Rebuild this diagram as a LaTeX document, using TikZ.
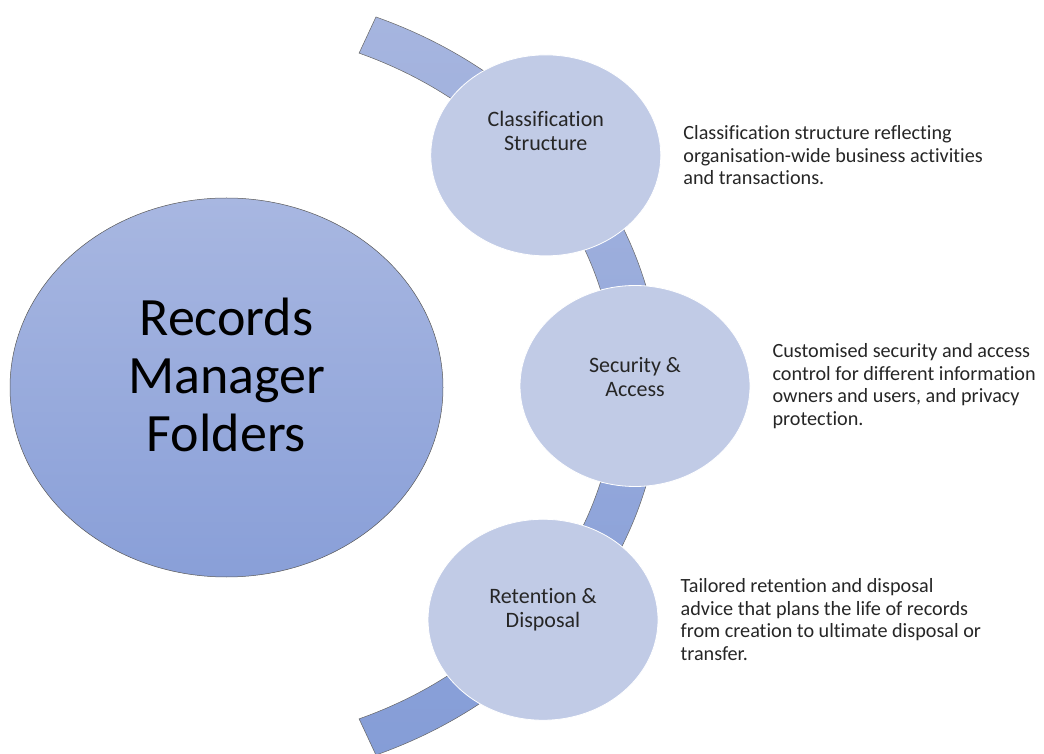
\documentclass[tikz,border=0pt]{standalone}
\usepackage{fontspec}
\setmainfont{Carlito}[Ligatures=NoCommon]
\usetikzlibrary{positioning,shapes.geometric}

\definecolor{bandtop}{RGB}{166,181,223}
\definecolor{bandbot}{RGB}{133,157,215}
\definecolor{hubtop}{RGB}{168,183,225}
\definecolor{hubbot}{RGB}{137,159,216}
\definecolor{discfill}{RGB}{193,203,230}

\begin{document}
\begin{tikzpicture}[x=1pt,y=1pt,
    disc/.style={ellipse, fill=discfill, draw=white, line width=0.8pt,
      minimum width=230pt, minimum height=201pt, inner sep=0pt},
    disclabel/.style={align=center, inner sep=0pt, text=black!85,
      font=\fontsize{22}{24}\selectfont},
    note/.style={align=left, inner sep=0pt, text=black!85,
      font=\fontsize{20.2}{22.5}\selectfont}]
  \useasboundingbox (0,0) rectangle (1044,753);

  % curved band running behind the three discs
  \coordinate (arc) at (205.5,367);
  \draw[gray!80!black, line width=0.5pt, top color=bandtop, bottom color=bandbot]
    ([shift={(68:455 and 398)}]arc)
      arc[start angle=68, end angle=-68, x radius=455, y radius=398]
    -- ([shift={(-68:410 and 359)}]arc)
      arc[start angle=-68, end angle=68, x radius=410, y radius=359] -- cycle;

  % hub on the left
  \node[ellipse, draw=gray!70!black, line width=0.5pt, top color=hubtop,
    bottom color=hubbot, minimum width=433pt, minimum height=379pt,
    inner sep=0pt] (hub) at (226.5,365.5) {};
  \node[align=center, inner sep=0pt, font=\fontsize{54}{58}\selectfont]
    (hub-text) at ([yshift=13]hub.center) {Records\\Manager\\Folders};

  % discs sitting on the band
  \foreach \n/\ang in {1/37.6, 2/0, 3/-38.2}
    \node[disc] (c\n) at ([shift={(\ang:429.5 and 378)}]arc) {};

  \node[disclabel] (c1-text) at ([yshift=24]c1.center) {Classification\\Structure};
  \node[disclabel] (c2-text) at ([yshift=9]c2.center) {Security \&\\Access};
  \node[disclabel] (c3-text) at ([yshift=10]c3.center) {Retention \&\\Disposal};

  % descriptions
  \node[note, right=22pt of c1] (n1) {Classification structure reflecting\\
    organisation-wide business activities\\and transactions.};
  \node[note, right=22pt of c2] (n2) {Customised security and access\\
    control for different information\\owners and users, and privacy\\protection.};
  \node[note, right=22pt of c3] (n3) {Tailored retention and disposal\\
    advice that plans the life of records\\from creation to ultimate disposal or\\transfer.};
\end{tikzpicture}
\end{document}
